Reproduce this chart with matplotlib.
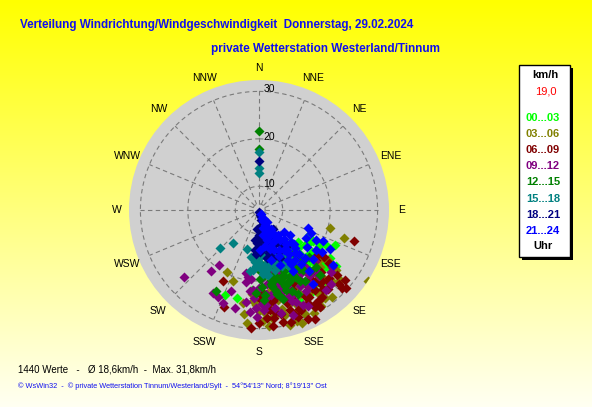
import numpy as np
import matplotlib
matplotlib.use("Agg")
import matplotlib.pyplot as plt
from matplotlib.patches import Rectangle

W, H = 592, 407

# wind direction (deg, from N clockwise) and speed (km/h), per 3-hour block
dir00 = [122, 118, 128, 135, 131, 140, 126, 145, 150, 138, 133, 124, 142, 155, 160, 148, 136, 129, 121, 115,
         130, 143, 152, 158, 163, 139, 127, 134, 146, 168, 172, 178, 185, 194, 202, 125, 137, 149, 132, 144,
         141, 147, 153, 157, 120, 117, 136, 139, 162, 166, 170, 130, 127, 151, 156,
         134, 140, 146, 150, 154, 138, 143, 131, 148, 155, 159, 137, 142, 133, 151]
spd00 = [17.7, 21.3, 19.3, 14.4, 22.6, 18.0, 25.0, 20.5, 19.2, 23.5, 16.5, 23.0, 24.5, 21.8, 18.4, 17.0, 20.2, 15.6, 19.8, 22.6,
         24.0, 16.0, 23.2, 20.9, 22.5, 18.9, 17.2, 21.4, 25.5, 21.0, 23.8, 19.6, 22.0, 24.2, 24.4, 20.0, 26.0, 18.5, 23.0, 15.5,
         21.0, 19.8, 17.4, 24.0, 18.2, 16.8, 22.4, 14.8, 19.6, 17.6, 16.2, 20.8, 23.6, 20.2, 25.8,
         19.0, 21.6, 18.2, 22.8, 19.6, 24.8, 20.0, 23.2, 17.0, 21.4, 20.6, 18.0, 26.4, 21.0, 16.4]

dir03 = [104, 108, 123, 131, 142, 147, 157, 165, 190, 207, 150, 160, 170, 175, 180, 185, 130, 155, 145, 138,
         162, 168, 178, 188, 127, 152, 143, 172, 182, 158, 149, 136, 166, 176, 134, 154, 146, 200, 186, 163,
         128, 133, 140, 153, 159, 167, 173, 184, 126, 144, 151, 161, 169, 177, 139,
         141, 148, 154, 158, 162, 165, 170, 150, 137, 145, 156, 167, 173, 152, 160]
spd03 = [20.4, 23.8, 32.3, 27.5, 22.4, 29.1, 26.8, 30.1, 24.9, 19.7, 25.5, 28.0, 27.0, 29.5, 26.2, 22.8, 21.5, 23.4, 26.2, 24.0,
         21.8, 24.5, 28.4, 27.2, 23.0, 29.6, 28.2, 22.2, 25.0, 26.5, 20.8, 26.0, 27.9, 23.6, 26.8, 24.6, 25.0, 21.0, 29.0, 24.8,
         25.6, 22.6, 28.8, 20.6, 30.4, 23.8, 25.2, 24.2, 23.0, 27.0, 22.0, 29.8, 20.4, 26.6, 26.8,
         24.6, 23.2, 27.2, 21.4, 25.8, 24.0, 22.0, 28.6, 25.0, 27.8, 29.0, 26.4, 28.0, 21.0, 23.4]

dir06 = [108, 129, 132, 156, 153, 168, 180, 184, 200, 207, 179, 138, 163, 175, 134, 142, 172, 160, 166, 139,
         133, 135, 146, 177, 170, 158, 130, 128, 126, 174, 164, 150, 145, 131, 127, 136, 137, 176, 141, 150,
         169, 140, 141, 147, 152, 157, 161, 165, 171, 159, 155, 148, 162, 167, 173, 178, 144, 138, 154, 133,
         146, 151, 159, 163, 168, 171, 174, 149, 155, 160, 143, 166, 170, 157, 152]
spd06 = [26.1, 28.3, 29.7, 30.2, 30.8, 29.1, 28.8, 29.9, 26.7, 21.9, 24.0, 22.3, 27.0, 26.0, 25.5, 24.2, 28.0, 25.0, 23.0, 27.2,
         29.0, 23.5, 27.8, 22.5, 21.5, 27.5, 26.4, 20.5, 22.0, 24.8, 29.5, 28.6, 25.5, 21.0, 23.4, 25.8, 24.0, 27.8, 20.8, 26.2,
         23.6, 25.0, 26.4, 24.0, 27.2, 23.0, 28.4, 21.6, 26.8, 25.2, 22.0, 29.2, 24.6, 20.4, 29.6, 23.2, 27.6, 25.0, 21.4, 28.0,
         24.8, 26.0, 23.6, 25.4, 27.4, 24.4, 26.2, 28.0, 21.8, 29.0, 23.0, 20.6, 22.8, 27.8, 25.6]

dir09 = [228, 218, 216, 209, 205, 201, 132, 172, 143, 142, 188, 180, 138, 150, 185, 176, 192, 143, 128, 155,
         190, 183, 168, 178, 145, 165, 186, 131, 140, 150, 194, 150, 199, 182, 174, 137, 141, 189, 160, 164,
         155, 170, 177, 184, 136, 148, 166, 158, 162, 175, 187, 160, 152, 146, 181,
         150, 157, 163, 168, 171, 175, 153, 160, 166, 178, 147, 162]
spd09 = [26.2, 21.3, 19.3, 25.1, 25.2, 26.0, 21.0, 23.0, 19.8, 22.5, 24.5, 21.5, 23.8, 20.0, 26.5, 25.0, 18.5, 22.0, 24.6, 27.0,
         20.5, 23.6, 27.2, 19.5, 24.0, 19.0, 22.2, 25.0, 27.0, 24.8, 26.2, 21.6, 23.0, 25.6, 20.6, 23.0, 20.5, 19.4, 22.0, 24.4,
         20.8, 18.8, 26.2, 21.8, 26.8, 22.8, 21.2, 25.8, 19.2, 23.4, 19.6, 24.2, 23.2, 21.0, 27.6,
         21.8, 24.0, 22.4, 20.8, 26.0, 22.8, 27.6, 25.4, 23.8, 24.8, 24.2, 28.2]

dir12 = [0, 0, 208, 175, 150, 156, 165, 170, 180, 138, 135, 145, 160, 168, 178, 183, 142, 155, 172, 162,
         152, 176, 144, 140, 148, 167, 158, 174, 182, 140, 152, 163, 171, 179, 146, 150, 154, 159, 166, 173,
         177, 181, 149, 157, 164, 169, 137, 133, 161, 170,
         152, 158, 161, 166, 170, 174, 147, 155, 163, 168, 156, 160, 144, 150, 165]
spd12 = [17.8, 21.6, 24.3, 18.7, 18.0, 21.1, 17.5, 20.0, 16.0, 19.2, 22.0, 17.0, 19.5, 22.5, 21.2, 15.6, 16.8, 20.4, 16.5, 15.8,
         18.4, 23.0, 20.6, 21.8, 18.6, 19.0, 23.4, 17.8, 22.6, 18.2, 21.0, 16.2, 20.8, 19.6, 20.0, 22.4, 16.6, 19.8, 23.6, 14.8,
         24.0, 17.4, 18.8, 21.4, 15.4, 20.2, 23.8, 19.4, 22.8, 17.2,
         20.4, 18.8, 22.0, 19.8, 21.2, 18.2, 22.8, 24.6, 20.6, 23.0, 17.6, 21.6, 20.2, 16.8, 24.4]

dir15 = [0, 0, 0, 226, 218, 197, 184, 164, 190, 170, 176, 180, 186, 165, 172, 160, 167, 173, 182, 188,
         158, 178, 171, 158, 185, 162, 175, 165, 153, 181, 155, 162, 169, 177, 174, 150, 179, 166, 172, 183,
         152, 168, 168, 176, 161, 180, 171, 148, 157, 174]
spd15 = [17.2, 13.8, 12.8, 16.5, 13.8, 13.6, 16.0, 17.0, 15.0, 14.5, 18.5, 13.5, 17.8, 16.2, 18.8, 15.6, 16.6, 16.4, 14.2, 18.0,
         14.8, 17.4, 15.2, 17.8, 15.6, 16.6, 13.8, 18.2, 17.0, 15.8, 16.4, 14.0, 16.0, 17.4, 16.8, 15.4, 14.6, 12.8, 17.6, 16.8,
         18.4, 13.2, 15.0, 14.6, 15.4, 16.2, 12.6, 17.2, 14.8, 18.6]

dir18 = [0, 180, 151, 183, 146, 160, 170, 175, 165, 155, 186, 178, 168, 158, 172, 162, 148, 152, 176, 184,
         166, 173, 142, 188, 163, 157, 169, 179, 186, 181, 154, 161, 149, 167, 174, 171, 159, 177, 153, 145,
         164, 182, 156, 150, 168]
spd18 = [15.3, 5.4, 9.8, 12.0, 11.8, 8.0, 7.2, 10.5, 13.0, 12.6, 9.0, 13.8, 10.0, 9.4, 11.2, 6.6, 13.6, 7.8, 8.6, 14.2,
         12.0, 6.0, 14.6, 11.4, 10.8, 11.0, 8.2, 12.6, 13.5, 10.2, 14.8, 9.6, 12.4, 14.4, 12.8, 15.2, 13.2, 9.2, 10.4, 10.0,
         15.6, 11.8, 16.0, 11.6, 13.4]

dir21 = [158, 152, 129, 178, 144, 110, 124, 127, 144, 155, 162, 148, 140, 135, 165, 170, 160, 150, 145, 138,
         156, 168, 153, 142, 132, 118, 114, 147, 163, 159, 149, 136, 154, 166, 172, 141, 146, 157, 151, 121,
         150, 156, 161, 134, 139, 143, 128, 125, 137, 153, 160, 164, 147, 131, 119, 116, 149, 155, 145, 141]
spd21 = [8.4, 12.2, 13.4, 13.4, 18.0, 16.0, 21.0, 24.4, 24.4, 10.0, 9.2, 15.0, 16.8, 14.6, 11.5, 12.8, 14.0, 17.2, 12.8, 17.6,
         15.6, 8.8, 10.6, 19.4, 20.4, 18.6, 17.0, 9.8, 13.2, 17.4, 11.0, 19.0, 7.2, 15.8, 10.4, 14.2, 16.2, 12.4, 19.8, 16.6,
         6.0, 6.8, 7.5, 15.2, 13.0, 11.6, 17.8, 19.6, 16.0, 14.4, 10.8, 13.6, 8.0, 12.0, 22.0, 20.0, 18.2, 9.4, 15.4, 21.6]

groups = ["00...03", "03...06", "06...09", "09...12", "12...15", "15...18", "18...21", "21...24"]
colors = ["#00ff00", "#808000", "#800000", "#800080", "#008000", "#008080", "#000080", "#0000ff"]
dirs = [dir00, dir03, dir06, dir09, dir12, dir15, dir18, dir21]
spds = [spd00, spd03, spd06, spd09, spd12, spd15, spd18, spd21]

compass = ["N", "NNE", "NE", "ENE", "E", "ESE", "SE", "SSE",
           "S", "SSW", "SW", "WSW", "W", "WNW", "NW", "NNW"]
rings = [10, 20, 30]

n_values = 1440
mean_speed = "18,6"
max_speed = "31,8"
legend_top = "19,0"

r0, rmax = 5.0, 32.4   # speed at the centre / at the rim of the grey disc


def px(x, y):
    return x / W, 1 - y / H


plt.rcParams['font.family'] = ['Liberation Sans', 'DejaVu Sans']

fig = plt.figure(figsize=(W / 100, H / 100), dpi=100)

# yellow background gradient
bg = fig.add_axes([0, 0, 1, 1], zorder=-10)
grad = np.linspace(0, 1, 256).reshape(-1, 1)
top = np.array([1.0, 1.0, 0.0])
bot = np.array([1.0, 1.0, 0.95])
img = top + (bot - top) * grad[..., None]
bg.imshow(img, aspect='auto', extent=[0, 1, 0, 1])
bg.axis('off')

# polar plot, centre (259,210), radius 130 px
cx, cy, rad = 259, 210, 130
ax = fig.add_axes([(cx - rad) / W, (H - cy - rad) / H, 2 * rad / W, 2 * rad / H], projection='polar')
ax.set_theta_zero_location('N')
ax.set_theta_direction(-1)
ax.set_rlim(r0, rmax)
ax.set_facecolor('#d0d0d0')
ax.spines['polar'].set_visible(False)
ax.grid(False)
ax.set_xticks([])
ax.set_yticks([])

gcol = '#7a7a7a'
th = np.linspace(0, 2 * np.pi, 400)
for r in [6.3] + rings:
    ax.plot(th, np.full_like(th, r), ls=(0, (4, 3)), color=gcol, lw=0.8)
for k in range(16):
    a = np.deg2rad(k * 22.5)
    ax.plot([a, a], [6.3, 30], ls=(0, (4, 3)), color=gcol, lw=0.8)

for r in rings:
    ax.annotate(str(r), xy=(0, r), xytext=(10, 2), textcoords='offset pixels',
                ha='center', va='center', fontsize=7.5, color='black')

for k, name in enumerate(compass):
    ax.text(np.deg2rad(k * 22.5), 35.0, name, ha='center', va='center',
            fontsize=7.5, clip_on=False)

for d, s, c in zip(dirs, spds, colors):
    ax.scatter(np.deg2rad(d), s, marker='D', s=26, color=c, linewidths=0, zorder=3)

# titles
blue = '#1010ee'
fig.text(*px(20, 25), "Verteilung Windrichtung/Windgeschwindigkeit  Donnerstag, 29.02.2024",
         color=blue, fontsize=8.4, fontweight='bold', ha='left', va='center')
fig.text(*px(211, 49), "private Wetterstation Westerland/Tinnum",
         color=blue, fontsize=8.45, fontweight='bold', ha='left', va='center')

# legend box
fig.patches.append(Rectangle(px(522, 260), 51 / W, 192 / H, transform=fig.transFigure,
                             facecolor='black', edgecolor='none', zorder=1))
fig.patches.append(Rectangle(px(519, 257), 51 / W, 192 / H, transform=fig.transFigure,
                             facecolor='white', edgecolor='black', lw=1, zorder=2))
fig.text(*px(545, 75), "km/h", fontsize=8, fontweight='bold', ha='center', va='center', zorder=3)
fig.text(*px(557, 92), legend_top, fontsize=8, color='red', ha='right', va='center', zorder=3)
for i, (g, c) in enumerate(zip(groups, colors)):
    fig.text(*px(543, 118 + i * 16.1), g, fontsize=8, fontweight='bold', color=c,
             ha='center', va='center', zorder=3)
fig.text(*px(543, 246), "Uhr", fontsize=8, fontweight='bold', ha='center', va='center', zorder=3)

# footer
fig.text(*px(18, 369), f"{n_values} Werte   -   Ø {mean_speed}km/h  -  Max. {max_speed}km/h",
         fontsize=7, ha='left', va='center')
fig.text(*px(18, 386), "© WsWin32  -  © private Wetterstation Tinnum/Westerland/Sylt  -  54°54'13'' Nord; 8°19'13'' Ost",
         fontsize=5.3, color=blue, ha='left', va='center')

fig.savefig("out.png", dpi=100)
